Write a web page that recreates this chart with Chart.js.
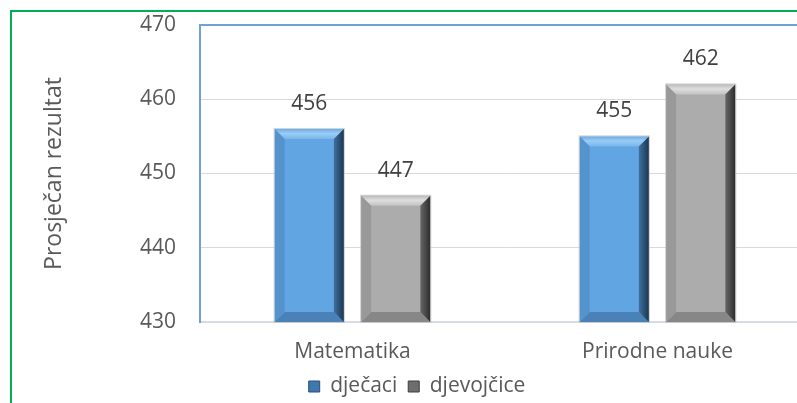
<!DOCTYPE html>
<html>
<head>
<meta charset="utf-8">
<script src="https://cdn.jsdelivr.net/npm/chart.js@4/dist/chart.umd.min.js"></script>
<style>
  html, body { margin: 0; padding: 0; background: #fff; overflow: hidden; }
  #frame { position: absolute; left: 10px; top: 10px; width: 810px; height: 395px; border: 2px solid #00B050; }
  canvas { display: block; }
</style>
</head>
<body>
<div id="frame"><canvas id="scoreChart" width="810" height="395"></canvas></div>
<script>
const subjects = ["Matematika", "Prirodne nauke"];
const seriesNames = ["dječaci", "djevojčice"];
const boysScores = [456, 455];
const girlsScores = [447, 462];
const yTicks = [430, 440, 450, 460, 470];
const axisTitle = "Prosječan rezultat";

const fontFamily = "'Open Sans', sans-serif";
const textGrey = "#595959";

// face colour + bevel shades for each series
const palettes = [
  { face: "#62A5E3", top: ["#6AABE6", "#9ACDF5", "#78B6EA"], left: "#5593CC", right: ["#3F70A0", "#1C3650"], bottom: "#4A82B8", legend: "#3F78AE", legendEdge: "#24507A" },
  { face: "#ACACAC", top: ["#BBBBBB", "#DEDEDE", "#C2C2C2"], left: "#999999", right: ["#676767", "#2C2C2C"], bottom: "#878787", legend: "#6E6E6E", legendEdge: "#3F3F3F" },
];

function poly(ctx, pts, fill) {
  ctx.beginPath();
  ctx.moveTo(pts[0][0], pts[0][1]);
  for (let k = 1; k < pts.length; k++) ctx.lineTo(pts[k][0], pts[k][1]);
  ctx.closePath();
  ctx.fillStyle = fill;
  ctx.fill();
}

// Excel-like bevel painted over each bar element
const bevelPlugin = {
  id: "bevel",
  afterDatasetsDraw(chart) {
    const ctx = chart.ctx;
    const area = chart.chartArea;
    ctx.save();
    chart.data.datasets.forEach((ds, i) => {
      const pal = palettes[i];
      chart.getDatasetMeta(i).data.forEach((bar) => {
        const p = bar.getProps(["x", "y", "base", "width"], true);
        const l = p.x - p.width / 2, r = p.x + p.width / 2;
        const t = Math.max(area.top, Math.min(p.y, p.base));
        const b = Math.min(area.bottom, Math.max(p.y, p.base));
        const d = Math.min(10, p.width / 4, (b - t) / 4);

        const gTop = ctx.createLinearGradient(0, t, 0, t + d);
        gTop.addColorStop(0, pal.top[0]);
        gTop.addColorStop(0.45, pal.top[1]);
        gTop.addColorStop(1, pal.top[2]);
        poly(ctx, [[l, t], [r, t], [r - d, t + d], [l + d, t + d]], gTop);
        poly(ctx, [[l, b], [r, b], [r - d, b - d], [l + d, b - d]], pal.bottom);
        poly(ctx, [[l, t], [l + d, t + d], [l + d, b - d], [l, b]], pal.left);
        const gRight = ctx.createLinearGradient(r - d, 0, r, 0);
        gRight.addColorStop(0, pal.right[0]);
        gRight.addColorStop(1, pal.right[1]);
        poly(ctx, [[r, t], [r - d, t + d], [r - d, b - d], [r, b]], gRight);

        ctx.strokeStyle = "rgba(190,190,190,0.7)";
        ctx.lineWidth = 1;
        ctx.strokeRect(l - 0.5, t - 0.5, r - l + 1, b - t + 1);
      });
    });
    ctx.restore();
  },
};

// value labels above the bars
const valueLabels = {
  id: "valueLabels",
  afterDatasetsDraw(chart) {
    const ctx = chart.ctx;
    ctx.save();
    ctx.font = "21px " + fontFamily;
    ctx.fillStyle = "#404040";
    ctx.textAlign = "center";
    ctx.textBaseline = "middle";
    chart.data.datasets.forEach((ds, i) => {
      chart.getDatasetMeta(i).data.forEach((bar, j) => {
        ctx.fillText(String(ds.data[j]), bar.x, bar.y - 25);
      });
    });
    ctx.restore();
  },
};

new Chart(document.getElementById("scoreChart").getContext("2d"), {
  type: "bar",
  data: {
    labels: subjects,
    datasets: [
      { label: seriesNames[0], data: boysScores, backgroundColor: palettes[0].face, borderWidth: 0 },
      { label: seriesNames[1], data: girlsScores, backgroundColor: palettes[1].face, borderWidth: 0 },
    ],
  },
  options: {
    responsive: false,
    animation: false,
    devicePixelRatio: 1,
    categoryPercentage: 0.567,
    barPercentage: 0.8,
    layout: { padding: { left: 12, top: 13, right: 12, bottom: 0 } },
    plugins: {
      tooltip: { enabled: false },
      legend: {
        position: "bottom",
        labels: {
          boxWidth: 11,
          boxHeight: 11,
          padding: 11,
          color: textGrey,
          font: { size: 21, family: fontFamily },
          generateLabels: (chart) =>
            chart.data.datasets.map((ds, i) => ({
              text: ds.label,
              fillStyle: palettes[i].legend,
              strokeStyle: palettes[i].legendEdge,
              lineWidth: 1,
              datasetIndex: i,
              fontColor: textGrey,
            })),
        },
      },
    },
    scales: {
      x: {
        grid: { display: false, drawTicks: false },
        border: { color: "#D6DCE4", width: 2 },
        ticks: { color: textGrey, padding: 17, font: { size: 21, family: fontFamily } },
        afterFit: (s) => { s.paddingLeft = 0; s.paddingRight = 0; s.height = 43; },
      },
      y: {
        min: yTicks[0],
        max: yTicks[yTicks.length - 1],
        afterBuildTicks: (s) => { s.ticks = yTicks.map((v) => ({ value: v })); },
        grid: {
          drawTicks: false,
          color: (c) => (c.tick && c.tick.value === yTicks[yTicks.length - 1] ? "#6FA0DA" : "#D9D9D9"),
          lineWidth: (c) => (c.tick && c.tick.value === yTicks[yTicks.length - 1] ? 2 : 1),
        },
        border: { color: "#6FA0DA", width: 2 },
        ticks: { color: textGrey, padding: 24, font: { size: 21, family: fontFamily } },
        title: {
          display: true,
          text: axisTitle,
          color: textGrey,
          padding: { top: 17, bottom: 0 },
          font: { size: 23, family: fontFamily },
        },
        afterFit: (s) => { s.width = 176; s.paddingTop = 0; s.paddingBottom = 0; },
      },
    },
  },
  plugins: [bevelPlugin, valueLabels],
});
</script>
</body>
</html>
